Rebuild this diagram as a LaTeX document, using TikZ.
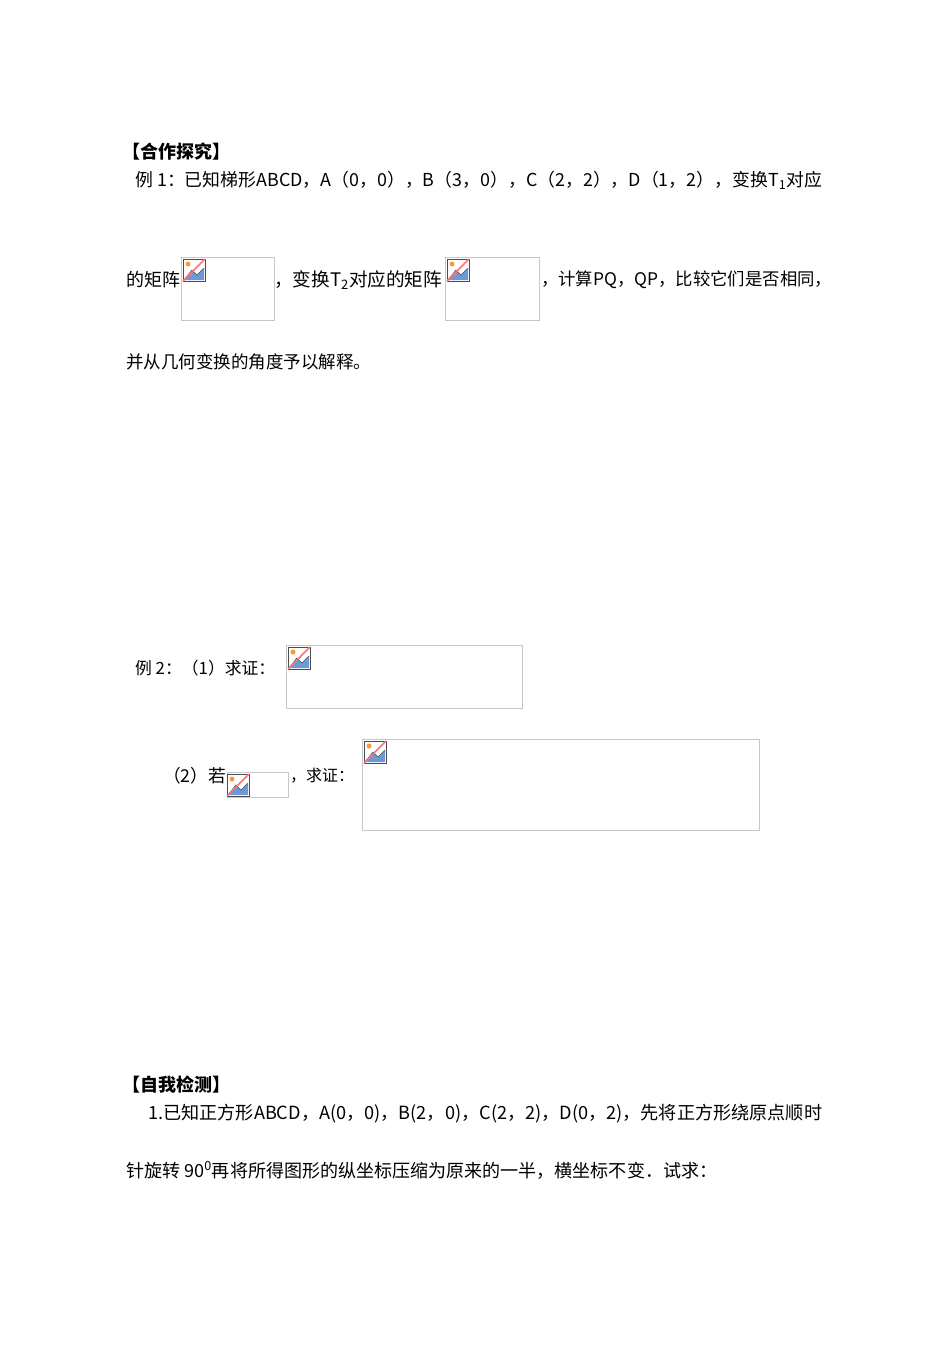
\documentclass[tikz,border=0pt]{standalone}
\usepackage{fontspec}
\usepackage{graphicx}
\setmainfont{Noto Sans CJK SC}
\newcommand{\fitw}[2]{\resizebox{#1pt}{!}{#2}}
\begin{document}
\begin{tikzpicture}[x=1pt,y=-1pt,
  txt/.style={anchor=west,inner sep=0pt,font=\fontsize{16}{16}\selectfont},
  hd/.style={anchor=west,inner sep=0pt,font=\fontsize{16}{16}\selectfont\bfseries},
  phbox/.style={draw=black!22,line width=0.8pt,fill=white}]
\useasboundingbox[fill=white] (0,0) rectangle (950,1350);
\newcommand{\icon}[2]{%
  \begin{scope}[shift={(#1,#2)}]
    \fill[white] (0,0) rectangle (22,22);
    \fill[cyan!50!blue!60] (1,21) -- (9,11) -- (14,16) -- (21,9) -- (21,21) -- cycle;
    \draw[black!70,line width=0.6pt] (1,21) -- (9,11) -- (14,16) -- (21,9);
    \fill[orange!80] (5,5) circle (2.5);
    \draw[black!70,line width=0.8pt] (0,0) rectangle (22,22);
    \draw[red!55,line width=1.6pt] (0,22) -- (22,0);
  \end{scope}}
\node[hd] (h1) at (122,152) {\fitw{108}{【合作探究】}};
\node[txt] (l1) at (135,180) {\fitw{687}{例 1：已知梯形ABCD，A（0，0），B（3，0），C（2，2），D（1，2），变换T\textsubscript{1}对应}};
\node[txt] (l2a) at (126,280) {\fitw{54}{的矩阵}};
\draw[phbox] (181,257) rectangle (274,320); \icon{183}{259}
\node[txt] (l2b) at (274,280) {\fitw{168}{，变换T\textsubscript{2}对应的矩阵}};
\draw[phbox] (445,257) rectangle (539,320); \icon{447}{259}
\node[txt] (l2c) at (541,280) {\fitw{291}{，计算PQ，QP，比较它们是否相同，}};
\node[txt] (l3) at (126,362) {\fitw{245}{并从几何变换的角度予以解释。}};
\node[txt] (e2) at (135,668) {\fitw{140}{例 2：（1）求证：}};
\draw[phbox] (286,645) rectangle (522,708); \icon{288}{647}
\node[txt] (e2b) at (163,776) {\fitw{63}{（2）若}};
\draw[phbox] (227,772) rectangle (288,797); \icon{227}{774}
\node[txt] (e2c) at (290,776) {\fitw{64}{，求证：}};
\draw[phbox] (362,739) rectangle (759,830); \icon{364}{741}
\node[hd] (h2) at (122,1085) {\fitw{108}{【自我检测】}};
\node[txt] (s1) at (148,1114) {\fitw{674}{1.已知正方形ABCD，A(0，0)，B(2，0)，C(2，2)，D(0，2)，先将正方形绕原点顺时}};
\node[txt] (s2) at (126,1170) {\fitw{591}{针旋转 90\textsuperscript{0}再将所得图形的纵坐标压缩为原来的一半，横坐标不变．试求：}};
\end{tikzpicture}
\end{document}
